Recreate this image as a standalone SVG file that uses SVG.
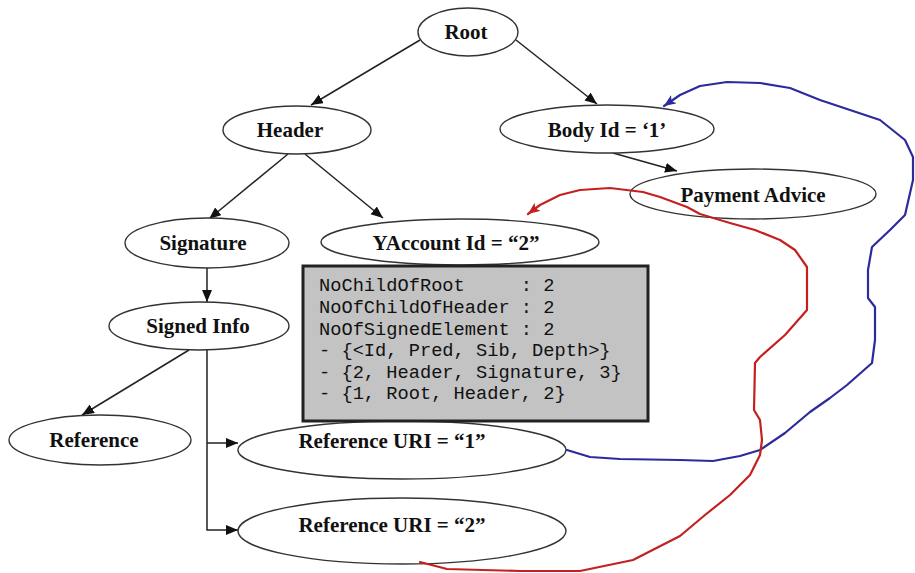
<svg xmlns="http://www.w3.org/2000/svg" width="915" height="573" viewBox="0 0 915 573">
<style>
.n ellipse{fill:#fff;stroke:#333;stroke-width:1.4}
.n text{font-family:"Liberation Serif","Times New Roman",serif;font-size:21px;font-weight:bold;fill:#111;text-anchor:middle}
.e{fill:none;stroke:#222;stroke-width:1.5}
.blue{fill:none;stroke:#2b2b9c;stroke-width:2.2;stroke-linejoin:round;stroke-linecap:round}
.red{fill:none;stroke:#c42020;stroke-width:2.2;stroke-linejoin:round;stroke-linecap:round}
.code{font-family:"Liberation Mono","Courier New",monospace;font-size:18.7px;fill:#111;white-space:pre}
</style>
<defs>
<marker id="ah" markerUnits="userSpaceOnUse" markerWidth="13" markerHeight="11" refX="12" refY="5" orient="auto"><path d="M0,0 L12,5 L0,10 z" fill="#111"/></marker>
<marker id="ahb" markerUnits="userSpaceOnUse" markerWidth="13" markerHeight="11" refX="12" refY="5" orient="auto"><path d="M0,0 L12,5 L0,10 L3,5 z" fill="#2b2b9c"/></marker>
<marker id="ahr" markerUnits="userSpaceOnUse" markerWidth="13" markerHeight="11" refX="12" refY="5" orient="auto"><path d="M0,0 L12,5 L0,10 L3,5 z" fill="#c42020"/></marker>
</defs>
<g id="connectors">
<line class="e" x1="420" y1="40" x2="311" y2="105" marker-end="url(#ah)"/>
<line class="e" x1="516" y1="40" x2="597" y2="104" marker-end="url(#ah)"/>
<line class="e" x1="613" y1="153" x2="677" y2="171" marker-end="url(#ah)"/>
<line class="e" x1="288" y1="154" x2="209" y2="219" marker-end="url(#ah)"/>
<line class="e" x1="305" y1="154" x2="383" y2="218" marker-end="url(#ah)"/>
<line class="e" x1="207" y1="268" x2="207" y2="302" marker-end="url(#ah)"/>
<line class="e" x1="189" y1="350" x2="82" y2="415" marker-end="url(#ah)"/>
<polyline class="e" points="207,350 207,530 238,530" marker-end="url(#ah)"/>
<line class="e" x1="207" y1="443" x2="238" y2="443" marker-end="url(#ah)"/>
</g>
<g id="root" class="n"><ellipse cx="468" cy="32" rx="50" ry="24"/><text x="466" y="39">Root</text></g>
<g id="header" class="n"><ellipse cx="297" cy="130" rx="74" ry="24"/><text x="290" y="137">Header</text></g>
<g id="body" class="n"><ellipse cx="607" cy="129" rx="107" ry="24"/><text x="607" y="137">Body Id = ‘1’</text></g>
<g id="payment" class="n"><ellipse cx="753" cy="194" rx="123" ry="25"/><text x="753" y="202">Payment Advice</text></g>
<g id="signature" class="n"><ellipse cx="207" cy="243" rx="82" ry="25"/><text x="203" y="250">Signature</text></g>
<g id="yaccount" class="n"><ellipse cx="460" cy="242" rx="139" ry="23"/><text x="456" y="250">YAccount Id = “2”</text></g>
<g id="signedinfo" class="n"><ellipse cx="199" cy="326" rx="90" ry="24"/><text x="198" y="333">Signed Info</text></g>
<g id="reference" class="n"><ellipse cx="100" cy="440" rx="91" ry="25"/><text x="94" y="447">Reference</text></g>
<g id="refuri1" class="n"><ellipse cx="402" cy="450" rx="164" ry="29"/><text x="392" y="448">Reference URI = “1”</text></g>
<g id="refuri2" class="n"><ellipse cx="402" cy="531" rx="164" ry="33"/><text x="392" y="532">Reference URI = “2”</text></g>
<g id="infobox">
<rect x="303" y="266" width="345" height="155" fill="#c3c3c3" stroke="#222" stroke-width="3"/>
<text class="code" x="319" y="291">NoChildOfRoot     : 2</text>
<text class="code" x="319" y="313">NoOfChildOfHeader : 2</text>
<text class="code" x="319" y="335">NoOfSignedElement : 2</text>
<text class="code" x="319" y="356">- {&lt;Id, Pred, Sib, Depth&gt;}</text>
<text class="code" x="319" y="378">- {2, Header, Signature, 3}</text>
<text class="code" x="319" y="399">- {1, Root, Header, 2}</text>
</g>
<g id="links">
<polyline class="blue" marker-end="url(#ahb)" points="567,450 590,457 620,459 680,460 713,461 740,456 760,450 785,433 810,412 830,398 847,385 872,363 875,340 875,307 868,298 868,270 872,247 890,230 905,215 913,180 913,157 905,140 880,120 850,110 820,100 790,88 760,83 727,82 700,86 680,95 664,106"/>
<polyline class="red" marker-end="url(#ahr)" points="420,562 447,569 520,571 580,571 633,560 680,536 705,515 730,495 750,475 760,455 762,440 760,420 754,410 755,363 760,357 785,335 807,310 807,267 795,250 780,240 755,230 730,223 700,214 687,207 660,197 643,192 610,188 580,190 560,195 540,205 528,214"/>
</g>
</svg>
